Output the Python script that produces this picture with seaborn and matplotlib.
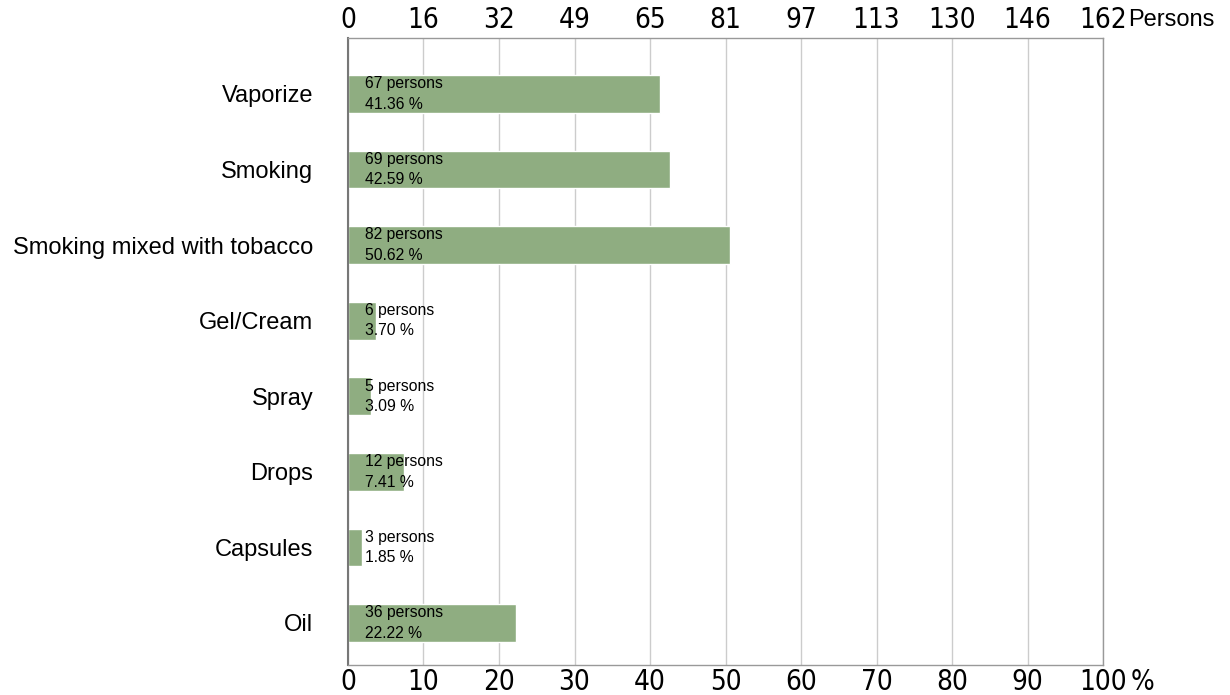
import numpy as np
import pandas as pd
import matplotlib
matplotlib.use("Agg")
import matplotlib.pyplot as plt
import seaborn as sns

categories = ["Vaporize", "Smoking", "Smoking mixed with tobacco", "Gel/Cream",
              "Spray", "Drops", "Capsules", "Oil"]
persons = [67, 69, 82, 6, 5, 12, 3, 36]
percents = [41.36, 42.59, 50.62, 3.70, 3.09, 7.41, 1.85, 22.22]
total_persons = 162
pct_ticks = [0, 10, 20, 30, 40, 50, 60, 70, 80, 90, 100]

df = pd.DataFrame({"category": categories, "percent": percents, "persons": persons})

sns.set_theme(style="white")
plt.rcParams["font.family"] = ["Liberation Sans", "DejaVu Sans"]
plt.rcParams["text.color"] = "black"
plt.rcParams["xtick.color"] = "black"
plt.rcParams["ytick.color"] = "black"

fig = plt.figure(figsize=(12.3, 6.95), dpi=100)
ax = fig.add_axes([348 / 1230, 1 - 665 / 695, 755 / 1230, 627 / 695])

sns.barplot(data=df, x="percent", y="category", orient="h", color="#8FAD81",
            width=0.5, saturation=1, ax=ax, zorder=2)

ax.set_xlim(0, 100)
ax.set_ylim(len(categories) - 1 + 0.556, -0.74)
ax.set_xlabel("")
ax.set_ylabel("")
ax.set_xticks(pct_ticks)
ax.grid(axis="x", color="#cccccc", linewidth=1, zorder=0)
ax.grid(axis="y", visible=False)
ax.set_axisbelow(True)

cond = dict(family="DejaVu Sans", stretch="condensed", size=20, color="black")
ax.set_xticklabels([str(t) for t in pct_ticks], fontdict=cond)
ax.tick_params(axis="x", length=0, pad=2)
ax.tick_params(axis="y", length=0, pad=25, labelsize=17, labelcolor="black")

for side in ["top", "bottom", "right"]:
    ax.spines[side].set_color("#999999")
    ax.spines[side].set_linewidth(1)
ax.spines["left"].set_color("#777777")
ax.spines["left"].set_linewidth(1.5)

# persons scale along the top edge
scale = total_persons / 100
top = ax.secondary_xaxis("top", functions=(lambda p: p * scale, lambda n: n / scale))
person_ticks = [t * scale for t in pct_ticks]
top.set_xticks(person_ticks)
top.set_xticklabels(["{:.0f}".format(v) for v in person_ticks], fontdict=cond)
top.tick_params(axis="x", length=0, pad=3)
top.spines["top"].set_visible(False)

ax.annotate("Persons", xy=(1.0, 1.0), xycoords="axes fraction", xytext=(18, 13),
            textcoords="offset points", ha="left", va="center", fontsize=17,
            color="black")
ax.annotate("%", xy=(1.0, 0.0), xycoords="axes fraction", xytext=(20, -2),
            textcoords="offset points", ha="left", va="top", **cond)

# value labels inside the bars
for i, (n, p) in enumerate(zip(persons, percents)):
    ax.annotate("{} persons\n{:.2f} %".format(n, p), xy=(0, i), xytext=(12, 0),
                textcoords="offset points", ha="left", va="center",
                fontsize=11.3, linespacing=1.45, color="black", zorder=3)

fig.savefig("out.png", dpi=100)
